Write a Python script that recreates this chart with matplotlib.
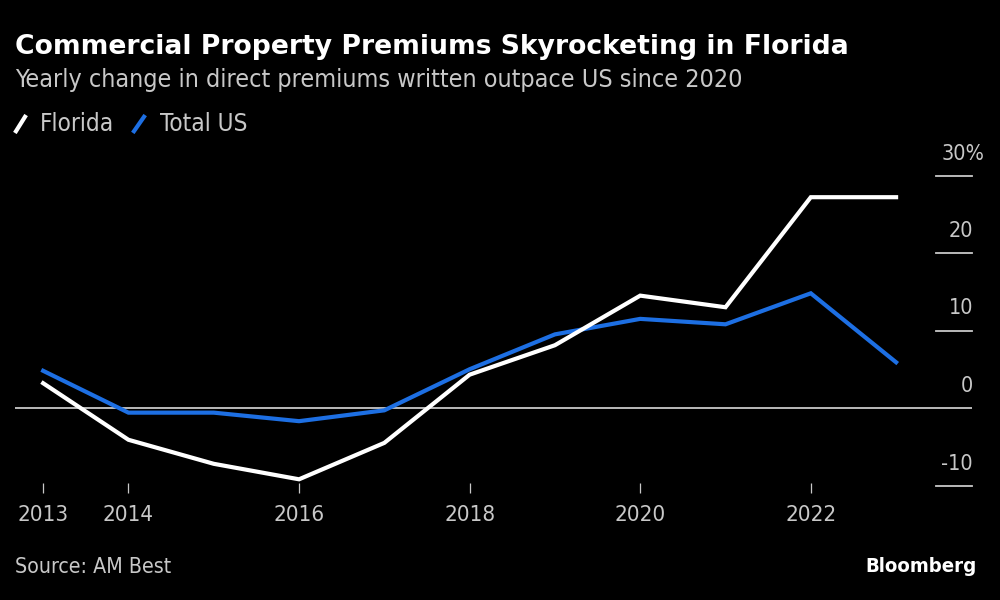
import matplotlib
matplotlib.use("Agg")
import matplotlib.pyplot as plt
from matplotlib.lines import Line2D

# data (yearly % change in direct premiums written)
years = [2013, 2014, 2015, 2016, 2017, 2018, 2019, 2020, 2021, 2022, 2023]
florida = [3.2, -4.1, -7.2, -9.2, -4.5, 4.3, 8.1, 14.5, 13.0, 27.2, 27.2]
total_us = [4.8, -0.6, -0.6, -1.7, -0.3, 5.0, 9.5, 11.5, 10.8, 14.8, 5.9]

xtick_years = [2013, 2014, 2016, 2018, 2020, 2022]
ytick_vals = [30, 20, 10, 0, -10]
ytick_labels = ["30%", "20", "10", "0", "-10"]

BG = "black"
WHITE = "white"
BLUE = "#1d6fe3"
GREY = "#c8c8c8"
NARROW = dict(family="DejaVu Sans", stretch="condensed")

fig = plt.figure(figsize=(10, 6), dpi=100, facecolor=BG)
ax = fig.add_axes([0.015, 1 - 483 / 600, 0.957, (483 - 160) / 600])
ax.set_facecolor(BG)

ax.set_xlim(2012.67, 2023.89)
ax.set_ylim((408 - 483) / 7.75, (408 - 160) / 7.75)

# zero line across, short dashes for the other levels
for v in ytick_vals:
    if v == 0:
        ax.axhline(v, color=GREY, lw=1.3, zorder=1)
    else:
        ax.axhline(v, xmin=0.962, xmax=1.0, color=GREY, lw=1.3, clip_on=False)

ax.plot(years, total_us, color=BLUE, lw=3.0, solid_joinstyle="miter", zorder=3)
ax.plot(years, florida, color=WHITE, lw=3.0, solid_joinstyle="miter", zorder=4)

# y labels sit above their dashes on the right
for v, lab in zip(ytick_vals, ytick_labels):
    dx = 12 if lab.endswith("%") else 1
    ax.annotate(lab, xy=(1, v), xycoords=("axes fraction", "data"),
                xytext=(dx, 22), textcoords="offset pixels",
                ha="right", va="center", color=GREY, fontsize=15.5, annotation_clip=False,
                **NARROW)

for s in ax.spines.values():
    s.set_visible(False)
ax.set_yticks([])
ax.set_xticks(xtick_years)
ax.set_xticklabels([str(y) for y in xtick_years], fontsize=16, color=GREY, **NARROW)
ax.tick_params(axis="x", colors=GREY, length=7, width=0.9, pad=9, direction="out")

# titles
fig.text(0.015, 1 - 47 / 600, "Commercial Property Premiums Skyrocketing in Florida",
         color=WHITE, fontsize=19.2, fontweight="bold", va="center", ha="left")
fig.text(0.015, 1 - 80 / 600, "Yearly change in direct premiums written outpace US since 2020",
         color=GREY, fontsize=18, va="center", ha="left", **NARROW)

# legend
ly = 1 - 124 / 600
fig.add_artist(Line2D([0.016, 0.025], [ly - 0.012, ly + 0.012], color=WHITE, lw=3.0))
fig.text(0.040, ly, "Florida", color=GREY, fontsize=17.5, va="center", **NARROW)
fig.add_artist(Line2D([0.134, 0.144], [ly - 0.012, ly + 0.012], color=BLUE, lw=3.0))
fig.text(0.160, ly, "Total US", color=GREY, fontsize=17.5, va="center", **NARROW)

# footer
fig.text(0.015, 1 - 567 / 600, "Source: AM Best", color=GREY, fontsize=15.3,
         va="center", ha="left", **NARROW)
fig.text(0.977, 1 - 566 / 600, "Bloomberg", color=WHITE, fontsize=14.6,
         fontweight="bold", va="center", ha="right", **NARROW)

fig.savefig("out.png", dpi=100, facecolor=BG)
